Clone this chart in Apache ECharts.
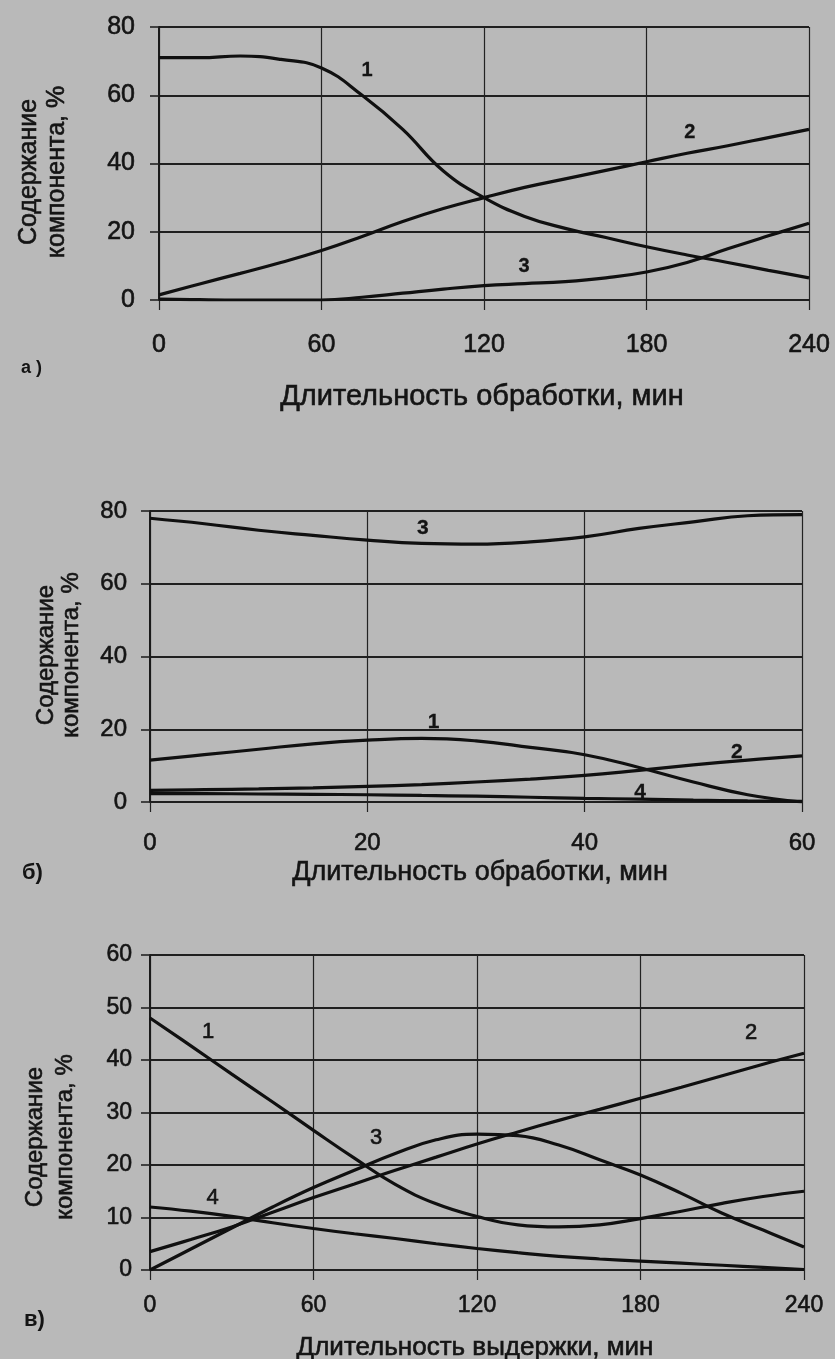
<!DOCTYPE html>
<html>
<head>
<meta charset="utf-8">
<script src="https://cdn.jsdelivr.net/npm/echarts@6/dist/echarts.min.js"></script>
<style>
html,body{margin:0;padding:0;background:#b9b9b9;}
#c{width:835px;height:1359px;}
</style>
</head>
<body>
<div id="c"></div>
<script>
// ---- Chart а ----
const aX = [0,15,30,45,60,75,90,105,120,135,150,165,180,195,210,225,240];
const a1 = [71,71,71.5,70.5,68,60,50,37.8,30,24.5,21,18.3,15.6,13.2,11,8.7,6.5];
const a2 = [1.5,4.7,7.8,11,14.5,18.6,23,26.8,30,33,35.5,38,40.5,43,45.2,47.6,50];
const a3 = [0.3,0.1,0,0,0,0.8,2,3.2,4.2,4.8,5.4,6.5,8.2,11,15,18.8,22.5];
const aXTicks = [0,60,120,180,240];
const aYTicks = [0,20,40,60,80];
const aLabels = [["1",76.8,67.4],["2",196,49],["3",134.8,9.7]];

// ---- Chart б ----
const bX = [0,5,10,15,20,25,30,35,40,45,50,55,60];
const b1 = [11.5,13,14.5,16,17,17.5,16.8,15,13,9.5,5.5,2,0];
const b2 = [3.2,3.4,3.6,3.9,4.3,4.8,5.5,6.3,7.3,8.7,10.2,11.5,12.7];
const b3 = [78,76.5,74.7,73.3,72,71.1,70.9,71.5,72.9,75.2,77,78.7,79];
const b4 = [2.3,2.3,2.2,2.1,2.0,1.8,1.6,1.3,1.0,0.8,0.5,0.3,0.2];
const bXTicks = [0,20,40,60];
const bYTicks = [0,20,40,60,80];
const bLabels = [["1",26.1,22],["2",54,13.7],["3",25.1,75.3],["4",45.1,2.7]];

// ---- Chart в ----
const cX = [0,15,30,45,60,75,90,105,120,135,150,165,180,195,210,225,240];
const c1 = [48,42.7,37.3,32,26.6,21.3,16.3,12.6,10.2,8.6,8.2,8.6,9.8,11.2,12.7,14,15];
const c2 = [3.5,5.8,8.2,11,13.8,16.4,19,21.5,24,26.3,28.5,30.6,32.7,34.8,37,39.2,41.3];
const c3 = [0,4,8,12,15.7,19,22.2,24.8,25.9,25.6,23.8,21,18.1,14.6,10.8,7.6,4.4];
const c4 = [12,11.2,10.2,9,7.9,6.9,6,5,4.1,3.3,2.6,2.1,1.7,1.3,0.9,0.5,0.1];
const cXTicks = [0,60,120,180,240];
const cYTicks = [0,10,20,30,40,50,60];
const cLabels = [["1",21.3,45.3],["2",220.6,45.1],["3",83,25.1],["4",23,13.7]];

const yTitle = "Содержание\nкомпонента, %";
const xTitleA = "Длительность обработки, мин";
const xTitleB = "Длительность обработки, мин";
const xTitleC = "Длительность выдержки, мин";

const FONT = "'Liberation Sans', Arial, sans-serif";
const INK = "#141414";
const STROKE = 0.6;

function pairs(xs, ys){ return xs.map((x,i)=>[x, ys[i]]); }

function xAxis(idx, ticks, fs, margin){
  return {
    type:'value', gridIndex: idx,
    min: ticks[0], max: ticks[ticks.length-1], interval: ticks[1]-ticks[0],
    axisLine:{show:false},
    axisTick:{show:true, inside:false, length:10, lineStyle:{color:'#222', width:1.2}},
    axisLabel:{show:true, color:INK, fontFamily:FONT, fontSize:fs, margin:margin, showMaxLabel:true, showMinLabel:true,
               textBorderColor:INK, textBorderWidth:STROKE},
    splitLine:{show:true, lineStyle:{color:'#222', width:1.2}}
  };
}
function yAxis(idx, ticks, fs, margin){
  return {
    type:'value', gridIndex: idx,
    min: ticks[0], max: ticks[ticks.length-1], interval: ticks[1]-ticks[0],
    axisLine:{show:true, lineStyle:{color:'#1a1a1a', width:2}},
    axisTick:{show:true, inside:false, length:9, lineStyle:{color:'#222', width:1.6}},
    axisLabel:{show:true, color:INK, fontFamily:FONT, fontSize:fs, margin:margin,
               textBorderColor:INK, textBorderWidth:STROKE},
    splitLine:{show:true, lineStyle:{color:'#1f1f1f', width:1.8}}
  };
}
function line(idx, xs, ys, labels, labelName, fs, bold){
  const mp = labels.filter(l=>l[0]===labelName).map(l=>({coord:[l[1],l[2]], value:l[0]}));
  return {
    type:'line', xAxisIndex: idx, yAxisIndex: idx,
    data: pairs(xs, ys), smooth: 0.45, symbol:'none',
    lineStyle:{color:'#101010', width:3.2},
    markPoint: mp.length ? {
      symbol:'circle', symbolSize:1, itemStyle:{color:'rgba(0,0,0,0)'},
      label:{show:true, formatter:labelName, color:INK, fontFamily:FONT, fontSize:fs, fontWeight: bold?'bold':'normal', position:'inside',
             textBorderColor:INK, textBorderWidth: bold?0.3:STROKE},
      data: mp
    } : undefined,
    silent:true, animation:false
  };
}
function txt(x, y, text, size, opts){
  return Object.assign({type:'text', x:x, y:y, style:{text:text, fill:INK, font:size+"px "+FONT, textAlign:'center', textVerticalAlign:'middle',
    stroke:INK, lineWidth:STROKE}}, opts||{});
}

const chart = echarts.init(document.getElementById('c'));
const g = [
  txt(43, 172, yTitle, 25, {rotation:Math.PI/2}),
  txt(59, 655, yTitle, 24, {rotation:Math.PI/2}),
  txt(50, 1137, yTitle, 24, {rotation:Math.PI/2}),
  txt(482, 397, xTitleA, 29),
  txt(480, 873, xTitleB, 27),
  txt(475, 1348, xTitleC, 26)
];
g[0].style.lineHeight = 28; g[1].style.lineHeight = 25; g[2].style.lineHeight = 30;
g.push({type:'text', x:21, y:368, style:{text:"а )", fill:INK, font:"bold 18px "+FONT, textAlign:'left', textVerticalAlign:'middle'}});
g.push({type:'text', x:22, y:873, style:{text:"б)", fill:INK, font:"bold 22px "+FONT, textAlign:'left', textVerticalAlign:'middle'}});
g.push({type:'text', x:24, y:1320, style:{text:"в)", fill:INK, font:"bold 22px "+FONT, textAlign:'left', textVerticalAlign:'middle'}});

chart.setOption({
  backgroundColor:'#b9b9b9',
  animation:false,
  grid:[
    {left:159, top:27, width:650, height:273},
    {left:150, top:511, width:652, height:291},
    {left:150, top:955, width:654, height:315}
  ],
  xAxis:[ xAxis(0,aXTicks,25,33), xAxis(1,bXTicks,24,29), xAxis(2,cXTicks,23,24) ],
  yAxis:[ yAxis(0,aYTicks,25,24), yAxis(1,bYTicks,24,23), yAxis(2,cYTicks,23,18) ],
  series:[
    line(0,aX,a1,aLabels,"1",20,true),
    line(0,aX,a2,aLabels,"2",20,true),
    line(0,aX,a3,aLabels,"3",20,true),
    line(1,bX,b1,bLabels,"1",21,true),
    line(1,bX,b2,bLabels,"2",21,true),
    line(1,bX,b3,bLabels,"3",21,true),
    line(1,bX,b4,bLabels,"4",21,true),
    line(2,cX,c1,cLabels,"1",22,false),
    line(2,cX,c2,cLabels,"2",22,false),
    line(2,cX,c3,cLabels,"3",22,false),
    line(2,cX,c4,cLabels,"4",22,false)
  ],
  graphic: g
});
</script>
</body>
</html>
